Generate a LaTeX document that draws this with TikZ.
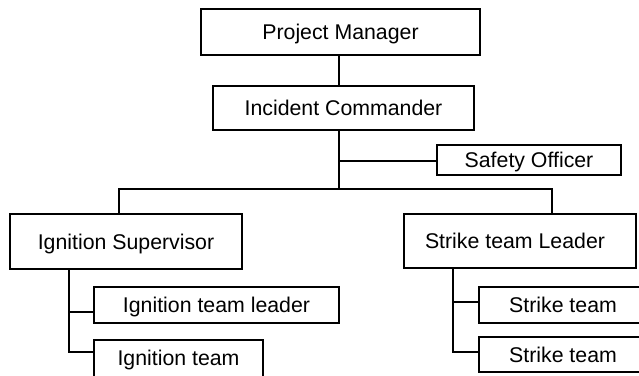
\documentclass[tikz,border=0pt]{standalone}
\usepackage{fontspec}
\setmainfont{Liberation Sans}
\begin{document}
\begin{tikzpicture}[x=1pt,y=-1pt,
  box/.style={draw=black, line width=1.5pt, fill=white, inner sep=0pt,
    text height=15.3pt, text depth=0pt, font=\fontsize{21.3}{25}\selectfont},
  link/.style={draw=black, line width=1.5pt}]
\useasboundingbox (0,0) rectangle (639,375);
\begin{scope}
\clip (0,0) rectangle (639,375);
\node[box, minimum width=279pt, minimum height=46pt] (pm) at (340.5,32) {Project Manager};
\node[box, minimum width=261pt, minimum height=44pt] (ic) at (343.5,108) {Incident Commander};
\node[box, minimum width=184pt, minimum height=30pt] (so) at (529,160) {Safety Officer};
\node[box, minimum width=232pt, minimum height=55pt] (is) at (126,241.5) {Ignition Supervisor};
\node[box, minimum width=232pt, minimum height=54pt] (stl) at (520,241) {\hspace*{-10pt}Strike team Leader};
\node[box, minimum width=245pt, minimum height=36pt] (itl) at (216.5,305) {Ignition team leader};
\node[box, minimum width=169pt, minimum height=40pt, text depth=4pt] (it) at (178.5,360) {Ignition team};
\node[box, minimum width=168pt, minimum height=36pt] (st1) at (563,305) {Strike team};
\node[box, minimum width=168pt, minimum height=35pt] (st2) at (563,354.5) {Strike team};

\coordinate (jc) at (339,189);
\coordinate (jl) at (119,189);
\coordinate (jr) at (552,189);
\coordinate (ib) at (69,352);
\coordinate (sb) at (453,352);

\draw[link] (pm.south -| jc) -- (ic.north -| jc);
\draw[link] (ic.south -| jc) -- (jc);
\draw[link] ([yshift=-1pt]so.west) -- ([yshift=-1pt]so.west -| jc);
\draw[link] (is.north -| jl) -- (jl) -- (jr) -- (stl.north -| jr);

\draw[link] (is.south -| ib) -- (ib) -- (ib -| it.west);
\draw[link] ([yshift=-7pt]itl.west) -- ([yshift=-7pt]itl.west -| ib);

\draw[link] (stl.south -| sb) -- (sb) -- (sb -| st2.west);
\draw[link] ([yshift=3pt]st1.west) -- ([yshift=3pt]st1.west -| sb);
\end{scope}
\end{tikzpicture}
\end{document}
